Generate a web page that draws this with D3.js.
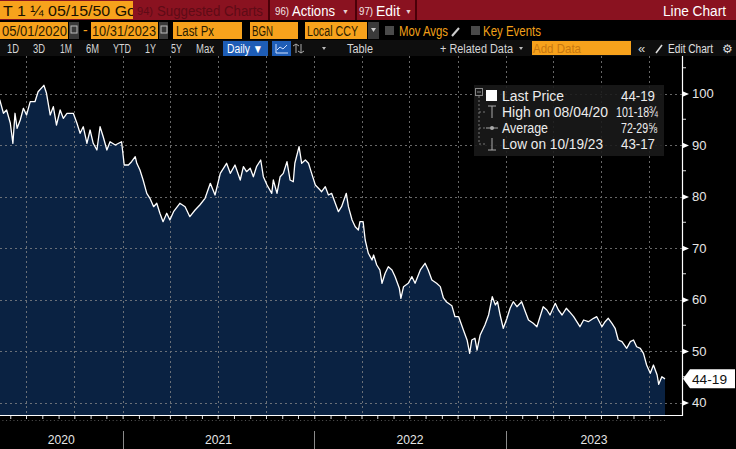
<!DOCTYPE html>
<html><head><meta charset="utf-8">
<script src="https://cdn.jsdelivr.net/npm/d3@7"></script>
<style>
html,body{margin:0;padding:0;background:#000;overflow:hidden}
svg{display:block}
text{font-family:"Liberation Sans",Arial,sans-serif}
</style>
</head><body>
<svg id="c" width="736" height="449"></svg>
<script>
// ---------------- DATA ----------------
const dates = ["2020-05-01","2020-05-12","2020-05-19","2020-05-25","2020-06-01","2020-06-06","2020-06-10","2020-06-14","2020-06-20","2020-06-26",
"2020-07-02","2020-07-09","2020-07-18","2020-07-24","2020-08-04","2020-08-09","2020-08-16","2020-08-22","2020-08-28","2020-09-04",
"2020-09-10","2020-09-17","2020-09-29","2020-10-06","2020-10-12","2020-10-18","2020-10-25","2020-10-31","2020-11-06","2020-11-13",
"2020-11-19","2020-11-25","2020-12-02","2020-12-08","2020-12-18","2020-12-30","2021-01-04","2021-01-12","2021-01-18","2021-01-25",
"2021-01-28","2021-02-03","2021-02-09","2021-02-16","2021-02-22","2021-03-01","2021-03-07","2021-03-13","2021-03-19","2021-03-26",
"2021-04-01","2021-04-08","2021-04-20","2021-04-30","2021-05-09","2021-05-19","2021-05-28","2021-06-07","2021-06-17","2021-06-26",
"2021-07-06","2021-07-18","2021-07-25","2021-08-03","2021-08-13","2021-08-19","2021-08-25","2021-09-01","2021-09-07","2021-09-13",
"2021-09-21","2021-09-26","2021-10-03","2021-10-12","2021-10-15","2021-10-22","2021-10-28","2021-11-03","2021-11-10","2021-11-16",
"2021-11-22","2021-11-25","2021-12-03","2021-12-08","2021-12-15","2021-12-21","2021-12-27","2022-01-03","2022-01-09","2022-01-15",
"2022-01-22","2022-01-28","2022-02-03","2022-02-10","2022-02-16","2022-02-22","2022-03-03","2022-03-07","2022-03-14","2022-03-20",
"2022-03-26","2022-03-29","2022-04-04","2022-04-08","2022-04-14","2022-04-21","2022-04-24","2022-04-30","2022-05-06","2022-05-10",
"2022-05-16","2022-05-22","2022-05-29","2022-06-04","2022-06-12","2022-06-15","2022-06-20","2022-06-29","2022-07-06","2022-07-12",
"2022-07-22","2022-07-31","2022-08-06","2022-08-13","2022-08-22","2022-08-29","2022-09-04","2022-09-10","2022-09-20","2022-09-26",
"2022-10-03","2022-10-12","2022-10-19","2022-10-24","2022-10-28","2022-11-03","2022-11-07","2022-11-13","2022-11-22","2022-11-29",
"2022-12-06","2022-12-12","2022-12-16","2022-12-21","2022-12-27","2023-01-03","2023-01-09","2023-01-15","2023-01-22","2023-01-31",
"2023-02-07","2023-02-13","2023-02-22","2023-03-01","2023-03-07","2023-03-13","2023-03-20","2023-03-26","2023-04-05","2023-04-11",
"2023-04-18","2023-04-26","2023-05-02","2023-05-10","2023-05-16","2023-05-22","2023-05-29","2023-06-07","2023-06-17","2023-06-23",
"2023-07-03","2023-07-09","2023-07-15","2023-07-22","2023-07-28","2023-08-03","2023-08-10","2023-08-19","2023-08-26","2023-09-01",
"2023-09-07","2023-09-14","2023-09-20","2023-09-26","2023-10-03","2023-10-09","2023-10-16","2023-10-19","2023-10-25","2023-10-31"];
const prices = [98.5,98.74,96.16,96.8,94.27,90.33,96.16,93.24,94.85,97.13,
95.83,98.41,98.41,100.35,101.59,100.04,95.83,97.44,93.88,96.8,
95.18,96.16,96.16,94.21,92.27,93.55,90.33,92.91,90.33,89.03,
93.55,91.61,89.03,90.64,90.0,90.64,86.12,86.12,86.76,87.73,
86.45,85.15,83.2,80.62,79.65,78.02,78.68,76.74,75.11,76.74,
75.44,77.05,78.68,78.02,76.08,77.38,78.35,79.65,82.56,80.29,
84.5,86.45,84.5,86.12,83.2,85.79,84.82,85.48,83.84,85.79,
87.09,83.84,82.23,80.62,83.2,80.62,83.84,84.5,86.76,83.2,
82.87,86.45,89.67,86.45,87.09,86.45,84.5,82.23,81.59,80.93,
81.9,80.29,80.62,78.68,77.05,78.02,80.62,78.02,75.44,74.14,
73.5,75.11,75.11,71.55,68.97,67.67,68.64,66.7,65.73,63.15,
65.09,66.37,65.73,64.43,62.17,60.23,62.49,63.15,64.43,63.15,
65.73,67.03,65.73,63.79,63.15,62.5,60.3,59.5,58.8,56.66,
56.66,54.08,52.14,49.55,52.14,52.47,50.19,53.11,55.05,56.99,
60.54,58.93,59.57,56.99,54.41,56.35,58.29,59.57,58.6,59.57,
57.63,56.02,55.38,54.72,56.66,58.6,57.96,56.99,59.26,57.96,
56.99,58.29,57.63,56.66,55.69,54.72,56.02,55.69,56.35,56.66,
54.72,55.69,56.35,55.38,54.41,52.14,51.81,50.52,51.81,52.14,
50.83,50.52,49.55,47.28,45.67,47.28,45.34,43.53,45.01,44.59];
const yTicks = [40,50,60,70,80,90,100];
const yMinorTicks = [45,55,65,75,85,95,105];
const yearLabels = ["2020","2021","2022","2023"];
const legendLabels = ["Last Price","High on 08/04/20","Average","Low on 10/19/23"];
const legendValues = ["44-19","101-18\u00BE","72-29\u215D","43-17"];
const lastLabel = "44-19";
const startDate = "2020-05-01", endDate = "2023-10-31";

// ---------------- SETUP ----------------
const svg = d3.select("#c");
const parse = d3.timeParse("%Y-%m-%d");
const data = dates.map((d,i)=>({date:parse(d), v:prices[i]}));
const W = 736, H = 449;
const plotTop = 56, plotBottom = 415, axisX = 682;

const x = d3.scaleTime().domain([parse(startDate), parse(endDate)]).range([-6, 665]);
const y = d3.scaleLinear().domain([40,100]).range([402.5, 93.5]);

// text helper: draws text squeezed to a given width (reference UI font is narrow)
function txt(g, s, px, py, size, fill, width, anchor){
  const t = g.append("text").attr("x",px).attr("y",py).attr("font-size",size).attr("fill",fill).text(s);
  if(width){ t.attr("textLength",width).attr("lengthAdjust","spacingAndGlyphs"); }
  if(anchor){ t.attr("text-anchor",anchor); }
  return t;
}

svg.append("rect").attr("width",W).attr("height",H).attr("fill","#000");

// ---------------- HEADER ROW 1 ----------------
const h1 = svg.append("g");
h1.append("rect").attr("x",0).attr("y",0).attr("width",W).attr("height",20).attr("fill","#8a1220");
svg.append("clipPath").attr("id","secClip").append("rect").attr("x",0).attr("y",0).attr("width",133).attr("height",20);
h1.append("rect").attr("x",0).attr("y",1).attr("width",133).attr("height",18).attr("fill","#f7a21c");
txt(h1,"T 1 \u00BC 05/15/50 Go",3,16,15,"#1a1200",133).attr("clip-path","url(#secClip)");
txt(h1,"94)",137,15,11,"#5e0b16",16);
txt(h1,"Suggested Charts",157,15.5,14,"#5e0b16",106);
[268,355,415].forEach(px=>h1.append("rect").attr("x",px).attr("y",0).attr("width",2).attr("height",20).attr("fill","#4a0008"));
txt(h1,"96)",275,15,11,"#f2e6e6",14);
txt(h1,"Actions",292,15.5,14,"#fff",43);
txt(h1,"\u25BC",342,14,7,"#e8d0d0");
txt(h1,"97)",359,15,11,"#f2e6e6",14);
txt(h1,"Edit",376,15.5,14,"#fff",24);
txt(h1,"\u25BC",405,14,7,"#e8d0d0");
txt(h1,"Line Chart",663,15.5,14,"#fff",63);

// ---------------- HEADER ROW 2 ----------------
const h2 = svg.append("g");
const oBoxes = [[0,68,"05/01/2020",2,65],[91,158,"10/31/2023",92,64],[173,242,"Last Px",176,38],[250,298,"BGN",252,21],[305,367,"Local CCY",307,51]];
oBoxes.forEach(b=>{
  h2.append("rect").attr("x",b[0]).attr("y",22).attr("width",b[1]-b[0]).attr("height",17).attr("fill","#f7a21c");
  txt(h2,b[2],b[3],35.5,14,"#2b1c00",b[4]);
});
[[69,79],[159,168]].forEach(b=>{
  h2.append("rect").attr("x",b[0]).attr("y",22).attr("width",b[1]-b[0]).attr("height",17).attr("fill","#3a3a3a");
  h2.append("rect").attr("x",b[0]+2).attr("y",26).attr("width",6).attr("height",7).attr("fill","none").attr("stroke","#bbb").attr("stroke-width",1);
});
txt(h2,"-",83,35,14,"#f7a21c");
h2.append("rect").attr("x",368).attr("y",22).attr("width",11).attr("height",17).attr("fill","#3a3a3a");
h2.append("path").attr("d","M371,28 L376,28 L373.5,32 Z").attr("fill","#ccc");
[385,471].forEach(px=>h2.append("rect").attr("x",px).attr("y",26).attr("width",9).attr("height",9).attr("fill","#4a4a4a"));
txt(h2,"Mov Avgs",399,35.5,14,"#f2a019",49);
h2.append("line").attr("x1",452).attr("y1",36).attr("x2",459).attr("y2",28).attr("stroke","#ccc").attr("stroke-width",2);
txt(h2,"Key Events",483,35.5,14,"#f2a019",58);

// ---------------- HEADER ROW 3 ----------------
const h3 = svg.append("g");
h3.append("rect").attr("x",0).attr("y",40).attr("width",W).attr("height",16).attr("fill","#0e0e0e");
const btns = [["1D",7,12],["3D",33,12],["1M",60,12],["6M",86,13],["YTD",113,18],["1Y",145,11],["5Y",171,11],["Max",196,18]];
btns.forEach(b=>txt(h3,b[0],b[1],52.5,12,"#d6d6d6",b[2]));
h3.append("rect").attr("x",223).attr("y",41).attr("width",45).attr("height",15).attr("fill","#1e5db6");
txt(h3,"Daily \u25BC",227,52.5,12,"#fff",36);
h3.append("rect").attr("x",272).attr("y",41).attr("width",19).attr("height",15).attr("fill","#1e5db6");
h3.append("path").attr("d","M276,44 L276,53 L288,53 M277,50 L280,47 L283,49 L287,45").attr("fill","none").attr("stroke","#cfe0ff").attr("stroke-width",1);
h3.append("path").attr("d","M296,44 L296,53 M293,46 L296,44 L299,46 M301,44 L301,53 M298,51 L301,53 L304,51").attr("fill","none").attr("stroke","#aaa").attr("stroke-width",1);
h3.append("path").attr("d","M322,47 L326,47 L324,50 Z").attr("fill","#bbb");
txt(h3,"Table",347,52.5,12,"#d6d6d6",26);
txt(h3,"+ Related Data",440,52.5,12,"#d6d6d6",73);
h3.append("path").attr("d","M519,47 L523,47 L521,50 Z").attr("fill","#bbb");
h3.append("rect").attr("x",532).attr("y",41).attr("width",99).attr("height",14).attr("fill","#f7a21c");
txt(h3,"Add Data",533,53,13,"#c87810",48);
txt(h3,"\u00AB",638,53,13,"#d6d6d6");
h3.append("line").attr("x1",656).attr("y1",53).attr("x2",662).attr("y2",45).attr("stroke","#ddd").attr("stroke-width",1.6);
txt(h3,"Edit Chart",668,52.5,12,"#e0e0e0",45);
txt(h3,"\u2699",722,53,12,"#ddd");

// ---------------- PLOT ----------------
svg.append("clipPath").attr("id","plotClip").append("rect").attr("x",0).attr("y",plotTop).attr("width",axisX).attr("height",plotBottom-plotTop);
const plot = svg.append("g").attr("clip-path","url(#plotClip)");

const area = d3.area().x(d=>x(d.date)).y0(plotBottom).y1(d=>y(d.v)).curve(d3.curveLinear);
plot.append("path").datum(data).attr("d",area).attr("fill","#0a2242");

// gridlines
const grid = plot.append("g").attr("stroke","#8a8a8a").attr("stroke-width",1).attr("stroke-dasharray","2,3").attr("opacity",0.75);
grid.selectAll("line.h").data(yTicks).join("line").attr("class","h")
  .attr("x1",0).attr("x2",axisX).attr("y1",d=>Math.round(y(d))+0.5).attr("y2",d=>Math.round(y(d))+0.5);
const quarters = d3.timeMonth.every(3).range(parse("2020-07-01"), parse("2023-11-01"));
grid.selectAll("line.v").data(quarters).join("line").attr("class","v")
  .attr("x1",d=>Math.round(x(d))+0.5).attr("x2",d=>Math.round(x(d))+0.5).attr("y1",plotTop).attr("y2",plotBottom);

const line = d3.line().x(d=>x(d.date)).y(d=>y(d.v));
plot.append("path").datum(data).attr("d",line).attr("fill","none").attr("stroke","#fff").attr("stroke-width",1.3).attr("stroke-linejoin","round");

// ---------------- AXES ----------------
const yAxis = d3.axisRight(y).tickValues(yTicks).tickSize(0).tickPadding(10).tickFormat(d3.format("d"));
const yg = svg.append("g").attr("transform",`translate(${axisX},0)`).call(yAxis);
yg.select(".domain").remove();
yg.selectAll("text").attr("font-size",13).attr("fill","#e6e6e6").attr("font-family","Liberation Sans, Arial, sans-serif");
yg.selectAll(".tick").append("path").attr("d","M0,-3 L7,0 L0,3 Z").attr("fill","#fff");
svg.append("g").selectAll("line").data(yMinorTicks).join("line")
  .attr("x1",axisX).attr("x2",axisX+4).attr("y1",d=>y(d)).attr("y2",d=>y(d)).attr("stroke","#ddd");
svg.append("line").attr("x1",axisX+0.5).attr("x2",axisX+0.5).attr("y1",plotTop).attr("y2",plotBottom+1).attr("stroke","#fff").attr("stroke-width",1.2);

const xAxis = d3.axisBottom(x).ticks(d3.timeMonth.every(1)).tickSize(4).tickFormat("");
const xg = svg.append("g").attr("transform",`translate(0,${plotBottom})`).call(xAxis);
xg.select(".domain").remove();
xg.selectAll(".tick line").attr("stroke","#ddd");
xg.selectAll(".tick").filter(function(){const t=this.getAttribute("transform");const v=+t.match(/translate\(([-\d.]+)/)[1];return v<0||v>axisX;}).remove();
svg.append("line").attr("x1",0).attr("x2",axisX+1).attr("y1",plotBottom+0.5).attr("y2",plotBottom+0.5).attr("stroke","#fff").attr("stroke-width",1.2);
// weekly dots under axis
const weeks = d3.timeWeek.every(1).range(parse(startDate), parse(endDate));
svg.append("g").selectAll("rect").data(weeks.filter(d=>x(d)>=0)).join("rect")
  .attr("x",d=>x(d)).attr("y",plotBottom+5).attr("width",1).attr("height",1).attr("fill","#555");

// year separators & labels
const yearStarts = yearLabels.map(s=>parse(s+"-01-01"));
svg.append("g").selectAll("line").data(yearStarts.slice(1)).join("line")
  .attr("x1",d=>Math.round(x(d))+0.5).attr("x2",d=>Math.round(x(d))+0.5).attr("y1",431).attr("y2",449).attr("stroke","#8a8a8a").attr("stroke-width",1);
svg.append("g").selectAll("text").data(yearLabels).join("text")
  .attr("x",(d,i)=>{const a=Math.max(0,x(yearStarts[i]));const b=i<yearLabels.length-1?x(yearStarts[i+1]):axisX;return (a+b)/2;})
  .attr("y",444).attr("text-anchor","middle").attr("font-size",13).attr("fill","#e6e6e6")
  .attr("textLength",27).attr("lengthAdjust","spacingAndGlyphs").text(d=>d);

// last price label
const ly = y(prices[prices.length-1]);
const lg = svg.append("g");
lg.append("path").attr("d",`M683,${ly} L690,${ly-9.5} L735,${ly-9.5} L735,${ly+9.5} L690,${ly+9.5} Z`).attr("fill","#fff");
txt(lg,lastLabel,692,ly+5,13.5,"#111",35);

// ---------------- LEGEND ----------------
const leg = svg.append("g");
leg.append("rect").attr("x",474).attr("y",85).attr("width",190).attr("height",71).attr("fill","#1a1a1a").attr("opacity",0.88);
const rowY = [96,112,128,144];
leg.append("rect").attr("x",475.5).attr("y",88.5).attr("width",7).attr("height",7).attr("fill","none").attr("stroke","#888");
leg.append("line").attr("x1",477).attr("x2",481).attr("y1",92).attr("y2",92).attr("stroke","#888");
leg.append("line").attr("x1",479).attr("x2",479).attr("y1",96).attr("y2",144).attr("stroke","#777").attr("stroke-dasharray","2,2");
rowY.slice(1).forEach(ry=>leg.append("line").attr("x1",479).attr("x2",487).attr("y1",ry).attr("y2",ry).attr("stroke","#777").attr("stroke-dasharray","2,2"));
leg.append("rect").attr("x",486).attr("y",90).attr("width",11).attr("height",11).attr("fill","#fff");
leg.append("path").attr("d",`M488,${rowY[1]-6} L496,${rowY[1]-6} M492,${rowY[1]-6} L492,${rowY[1]+6}`).attr("stroke","#aaa").attr("fill","none");
leg.append("line").attr("x1",486).attr("x2",498).attr("y1",rowY[2]).attr("y2",rowY[2]).attr("stroke","#aaa");
leg.append("circle").attr("cx",492).attr("cy",rowY[2]).attr("r",2).attr("fill","#aaa");
leg.append("path").attr("d",`M492,${rowY[3]-6} L492,${rowY[3]+6} M488,${rowY[3]+6} L496,${rowY[3]+6}`).attr("stroke","#aaa").attr("fill","none");
const labW = [62,106,46,101];
legendLabels.forEach((s,i)=>txt(leg,s,502,rowY[i]+5,14,"#ececec",labW[i]));
const valEnd = [655,658,657,655];
const valW = [34,42,36,34];
legendValues.forEach((s,i)=>txt(leg,s,valEnd[i],rowY[i]+5,14,"#ececec",valW[i],"end"));
</script>
</body></html>
